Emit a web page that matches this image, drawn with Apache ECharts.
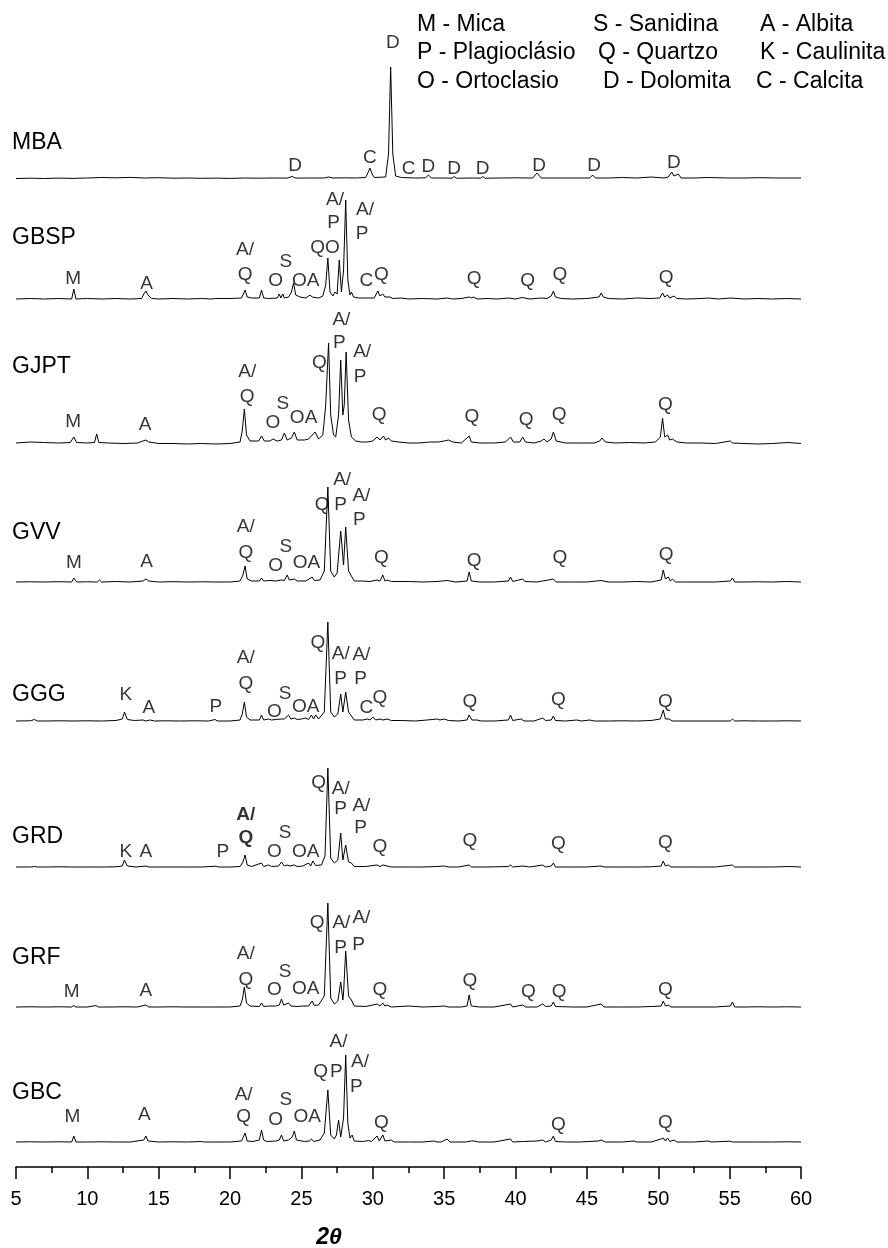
<!DOCTYPE html>
<html><head><meta charset="utf-8">
<script src="https://cdn.jsdelivr.net/npm/echarts@6/dist/echarts.min.js"></script>
<style>html,body{margin:0;padding:0;background:#fff}#c{width:888px;height:1248px}</style>
</head><body><div id="c"></div>
<script>
// ---- sample names and vertical offsets (stacking) ----
const sampleNames = ['MBA','GBSP','GJPT','GVV','GGG','GRD','GRF','GBC'];
const offsets = [988, 867, 722, 584, 445, 299, 159, 24];

// ---- diffractograms: [2theta, intensity] ----
const MBA = [[5,0.5],[6,0.8],[7,0.5],[8,0.9],[9,0.6],[10,1],[11,1.5],[12,1.2],[13,1.6],[14,1],[15,1.3],[16,0.8],[17,1],[18,0.7],[19,0.9],[20,0.6],[21,1],[22,0.8],[23,1],[24,0.9],[24.35,2.5],[24.6,0.9],[25.5,1],[26.6,1],[26.9,2],[27.2,1],[28,1.2],[28.8,1],[29.5,1.5],[29.65,6],[29.8,11],[29.95,5],[30.1,1.5],[30.9,2],[31.1,25],[31.25,112],[31.4,25],[31.6,3],[32,1.5],[33,1],[33.7,1.2],[33.9,4],[34.1,1],[35,1],[35.55,0.8],[35.7,2.5],[35.85,0.8],[37,1],[37.55,0.8],[37.7,2.5],[37.85,0.8],[39,1],[40,1.2],[41.2,1],[41.5,6],[41.8,1],[43,1],[44,1],[45.2,1],[45.4,4],[45.6,1],[46.5,1],[47.5,1.5],[48.5,1],[49.5,2],[50.4,1],[50.7,2],[50.94,7],[51.1,3],[51.4,5],[51.6,1],[52.5,1],[53.5,1.5],[55,1],[56,1],[57,1.3],[58.5,1],[59.2,1],[59.3,2],[59.45,1],[60,1]];
const GBSP = [[5,1],[6,1.5],[7,1],[8,1.5],[8.9,1],[9.05,11],[9.2,1],[10,1.5],[11,1],[12,1.5],[13,1],[13.8,1.5],[13.95,6],[14.1,9],[14.25,5],[14.5,1.5],[15,1],[16,1.5],[17,1],[18,1.5],[18.7,1],[19,1.5],[20,1.5],[20.8,2],[20.9,5],[21.05,10],[21.2,3],[21.5,2],[22.05,2],[22.2,10],[22.35,2],[22.7,1.5],[23.3,2],[23.45,6],[23.55,2],[23.7,6],[23.8,2],[24.1,3],[24.3,8],[24.45,17],[24.6,5],[24.9,3],[25.3,2],[25.6,5],[25.75,3],[26.2,2],[26.5,4],[26.7,15],[26.85,42],[27.0,8],[27.1,10],[27.2,4],[27.35,8],[27.5,6],[27.65,40],[27.8,8],[27.95,30],[28.1,100],[28.25,20],[28.4,5],[28.5,8],[28.65,3],[29,2],[29.5,2],[29.6,4],[29.7,2],[30.1,2],[30.35,9],[30.5,4],[30.7,6],[30.85,3],[31.2,3],[31.4,1.5],[32,2],[32.5,1],[33.5,1.5],[34.5,1],[35.2,2],[35.6,1],[36.2,1.5],[36.75,3],[36.9,2],[37.05,3],[37.3,1],[38,1.5],[38.7,1],[39.5,2],[40,1],[40.45,2.5],[41,1],[41.8,2],[42.2,1.5],[42.5,4],[42.65,9],[42.8,3],[43.2,1.5],[44,1],[45,1.5],[45.85,3],[46.0,7],[46.15,3],[46.5,1.5],[47.5,1],[48.5,2],[49.5,1.5],[50.1,2],[50.3,7],[50.45,3],[50.65,5],[50.8,2],[51.1,4],[51.3,1.5],[52,1],[53,1.5],[53.5,2],[54.2,1],[55.1,2],[56,1],[57,1.5],[58,1],[59,1.5],[60,1]];
const GJPT = [[5,2],[6,3],[7,2.5],[8,2],[8.8,2.5],[9.05,8],[9.25,2.5],[10,2],[10.5,2.5],[10.65,11],[10.8,2.5],[11.5,2],[12.5,1.5],[13.5,2],[13.9,4],[14.1,5],[14.3,3],[15,1.5],[16,1.5],[17,1],[18,1.5],[19,1],[20,1.5],[20.7,3],[20.85,14],[21.0,36],[21.15,10],[21.4,4],[22.0,4],[22.2,9],[22.4,4],[22.8,4],[23.0,6],[23.3,4],[23.6,5],[23.8,12],[24.0,5],[24.3,7],[24.5,13],[24.7,5],[25.2,5],[25.5,6],[25.95,13],[26.2,6],[26.5,10],[26.7,40],[26.9,102],[27.05,30],[27.25,10],[27.4,8],[27.6,30],[27.75,85],[27.9,30],[28.0,40],[28.13,93],[28.3,25],[28.5,8],[28.6,10],[28.8,4],[29.2,3],[29.6,3],[30.0,4],[30.3,8],[30.5,5],[30.75,9],[30.9,5],[31.1,7],[31.3,4],[31.8,3],[32.5,2],[33.2,2],[34,3],[34.6,3],[35.0,4],[35.3,5],[35.6,3],[36.2,2],[36.75,9],[36.9,3],[37.5,2],[38.5,2],[39.3,3],[39.65,8],[39.85,3],[40.3,3],[40.5,8],[40.7,3],[41.3,2],[41.8,4],[42.0,6],[42.2,3],[42.5,6],[42.65,13],[42.85,4],[43.5,2],[44.5,2],[45.5,2],[45.9,4],[46.05,7],[46.3,3],[47,2],[48,2.5],[49,2],[49.8,3],[50.15,8],[50.3,27],[50.45,8],[50.65,10],[50.8,5],[51.0,6],[51.3,3],[52,2],[53,2],[54,1.5],[55.05,4],[55.2,2],[56,1.5],[57,1],[58,1.5],[59.1,2.5],[60,1.5]];
const GVV = [[5,1],[6,1.2],[7,1],[8,1.3],[8.9,1],[9.05,5],[9.25,1],[10,1.2],[10.7,1],[10.85,3],[11,1],[12,1.5],[13,1],[13.9,2],[14.1,4],[14.3,2],[15,1],[16,1.3],[17,1],[18,1.2],[19,1],[20,1],[20.7,2],[20.9,8],[21.05,17],[21.2,4],[21.5,2],[22.05,2],[22.2,5],[22.35,2],[22.8,2.5],[23.2,2],[23.6,3],[23.8,2.5],[24.0,8],[24.15,3],[24.5,4],[24.7,2],[25.3,2],[25.75,6],[25.9,2.5],[26.3,3],[26.6,12],[26.85,96],[27.05,12],[27.3,6],[27.5,10],[27.75,52],[27.95,18],[28.1,56],[28.3,12],[28.5,7],[28.7,2],[29.3,2],[29.8,1.5],[30.3,3],[30.5,2],[30.7,8],[30.85,2],[31.0,3],[31.3,1.5],[32.5,1.5],[33.5,1],[34.5,1.5],[35.2,2.5],[35.8,1],[36.6,2],[36.75,11],[36.9,2],[37.5,1],[38.5,1],[39.5,2],[39.65,6],[39.8,1.5],[40.5,4],[40.65,1.5],[41.5,1],[41.9,2],[42.3,3],[42.65,4],[42.85,1],[44,1],[45,1],[46.0,2.5],[46.5,1],[47.5,1],[48.5,1.5],[49.5,1],[50.2,3],[50.35,13],[50.5,4],[50.7,6],[50.85,2],[51.0,4],[51.2,1],[52,1],[53,1],[54,1],[55.05,2],[55.2,5],[55.35,1],[56,1],[57,1.2],[58,1],[59,1.5],[60,1]];
const GGG = [[5,1],[6,1.2],[6.3,2.5],[6.5,1],[7,1],[8,1.2],[9,1],[10,1.2],[11,1],[12,1.5],[12.45,3],[12.6,10],[12.8,2.5],[13.3,1.5],[13.9,2],[14.1,1],[14.4,2],[14.7,1],[15.5,1.2],[16.5,1],[17.5,1.2],[18.5,1],[18.95,2.5],[19.1,1],[20,1],[20.7,2],[20.85,8],[21.0,20],[21.15,5],[21.4,2],[22.05,2],[22.2,7],[22.35,2],[22.7,3],[22.9,2],[23.2,2.5],[23.6,3],[23.8,3],[24.1,7],[24.25,3],[24.5,4],[24.7,2.5],[25.0,3],[25.3,4],[25.5,2.5],[25.7,7],[25.85,3],[26.0,7],[26.2,3],[26.6,10],[26.85,100],[27.05,10],[27.3,5],[27.55,8],[27.75,28],[27.9,10],[28.0,12],[28.1,30],[28.3,10],[28.5,6],[28.7,2],[29.3,2],[29.6,3],[29.8,2],[30.0,5],[30.2,2],[30.5,3],[30.7,2],[31.0,3],[31.3,1.5],[32,1.5],[33,1],[33.8,2],[34.5,3],[34.7,2],[35.0,3],[35.3,1.5],[36,1],[36.6,2],[36.75,7],[36.95,2],[37.3,2],[37.6,1],[38.5,1],[39.5,2],[39.65,7],[39.8,1.5],[40.4,3],[40.6,1],[41.3,1],[41.9,4],[42.1,1.5],[42.5,2],[42.65,6],[42.8,1.5],[43.5,1],[44.3,2],[44.6,1],[45.2,2],[45.5,1],[46.5,1],[47.5,1.2],[48.5,1],[49.5,1.5],[50.15,3],[50.35,12],[50.5,3],[50.75,3],[51.0,1],[52,1],[53,1],[54,1],[55.05,1],[55.2,3],[55.35,1],[56,1.2],[57,1],[58,1],[59,1.2],[60,1]];
const GRD = [[5,1],[6,1],[6.3,1.5],[6.5,1],[7,1],[8,1.2],[9,1],[10,1],[11,1],[12,1.2],[12.45,2],[12.6,8],[12.8,2],[13.4,1],[14.1,2],[14.3,1],[15,1],[16,1],[17,1],[18,1],[19.0,1.8],[19.2,1],[20,1],[20.7,1.5],[20.9,6],[21.05,13],[21.2,3],[21.5,1.5],[22.2,5],[22.35,1.5],[22.7,3],[22.9,1.5],[23.4,2],[23.6,6],[23.8,2],[24.0,3],[24.2,2],[24.5,3],[24.7,1.5],[25.1,2],[25.5,5],[25.65,2],[25.8,7],[26.0,2.5],[26.4,3],[26.65,12],[26.85,100],[27.05,10],[27.3,5],[27.55,8],[27.75,35],[27.9,8],[28.0,8],[28.1,23],[28.3,6],[28.5,5],[28.7,1.5],[29.5,1.5],[30.3,3],[30.5,1.5],[30.7,3],[31.0,2],[31.3,1],[32.5,1],[33.5,1],[34.5,1.5],[35.0,2],[35.3,1],[36,1],[36.75,3],[36.9,1],[38,1],[39.5,1.5],[39.65,3],[39.8,1],[40.5,2],[41,1],[41.9,3],[42.1,1],[42.5,2],[42.65,5],[42.8,1],[44,1],[45,1],[46.0,2],[46.2,1],[47.5,1],[48.5,1],[49.5,1.2],[50.2,2],[50.35,7],[50.5,2],[50.7,3],[50.9,1],[52,1],[53,1],[54,1],[55.2,3],[55.35,1],[56,1],[57,1],[58,1],[59.2,1.5],[60,1]];
const GRF = [[5,1],[6,1.2],[7,1],[8,1.2],[8.9,1],[9.05,2.5],[9.2,1],[10,1],[10.6,2.5],[10.75,1],[11.5,1],[12.5,1.2],[13.5,1],[14.1,3],[14.3,1],[15,1],[16,1.2],[17,1],[18,1],[19,1],[20,1],[20.7,2],[20.85,8],[21.0,21],[21.15,5],[21.4,2],[22.05,1.5],[22.2,5],[22.35,1.5],[22.7,2],[23.2,2],[23.45,3],[23.6,9],[23.75,3],[24.1,5],[24.25,2],[24.7,1.5],[25.1,2],[25.5,2],[25.75,7],[25.9,2.5],[26.2,3],[26.6,12],[26.85,105],[27.05,10],[27.3,4],[27.55,7],[27.75,26],[27.9,8],[27.95,15],[28.1,57],[28.3,12],[28.5,8],[28.7,2],[29.5,1.5],[30.3,4],[30.5,2],[30.7,5],[30.85,2],[31.0,3],[31.3,1],[32.5,2],[33.5,1],[34.5,1.5],[35.0,2],[35.3,1],[36.2,1],[36.6,2],[36.75,13],[36.9,2],[37.5,1],[38.5,1],[39.65,4],[39.8,1],[40.5,3],[40.7,1],[41.5,1],[41.9,4],[42.1,1.5],[42.5,2],[42.65,6],[42.8,1.5],[44,1],[45,1],[46.0,4],[46.2,1],[47.5,1],[48.5,1],[49.5,1.5],[50.2,2],[50.35,7],[50.5,2],[50.7,3],[50.9,1],[52,1],[53,1],[54,1],[55.05,2],[55.2,6],[55.35,1],[56,1],[57,1.2],[58,1],[59,1.2],[60,1]];
const GBC = [[5,1],[6,1.2],[7,1],[8,1.2],[8.9,1],[9.05,7],[9.2,1],[10,1],[11,1.2],[12,1],[13,1],[13.95,3],[14.1,7],[14.25,2],[15,1],[16,1.2],[17,1],[18,1.5],[18.2,1],[19,1],[20,1],[20.8,2],[20.9,4],[21.05,10],[21.2,2],[21.6,1.5],[22.05,3],[22.2,13],[22.35,3],[22.6,1.5],[23.2,2],[23.45,3],[23.6,8],[23.75,2],[24.1,3],[24.35,6],[24.5,12],[24.65,3],[25.2,1.5],[25.55,2],[25.7,4],[25.85,1.5],[26.3,3],[26.6,10],[26.85,53],[27.05,8],[27.3,4],[27.45,8],[27.6,23],[27.75,6],[27.95,25],[28.1,88],[28.25,20],[28.4,5],[28.55,8],[28.7,2],[29.3,1.5],[29.7,2.5],[29.9,1.5],[30.3,7],[30.45,2],[30.7,8],[30.85,2],[31.3,3],[31.5,1],[32.5,1],[33.5,1],[34.3,2],[34.5,1],[34.6,2],[34.8,1],[35.2,4],[35.4,1],[36.5,1],[36.9,2],[37.1,2],[37.4,1],[38.5,1],[39.65,4],[39.8,1],[40.5,1.5],[41.5,2],[41.9,3],[42.1,1],[42.5,3],[42.65,7],[42.8,1.5],[43.5,1],[44.5,1],[45.8,2],[46.0,3],[46.3,1],[47.5,1],[48.3,2],[48.5,1],[49.5,1],[50.2,4],[50.35,5],[50.5,2],[50.65,5],[50.8,1.5],[51.1,3],[51.3,1],[52.5,1],[53.5,2],[53.7,1],[55.0,1.8],[55.2,1],[56,1],[57,1],[58,1],[59,1.2],[60,1]];
const patterns = [MBA, GBSP, GJPT, GVV, GGG, GRD, GRF, GBC];

// ---- phase annotations: [2theta, height above baseline, text] ----
const MBA_labels = [[31.4,136,'D'],[24.55,13,'D'],[29.8,21,'C'],[32.5,10,'C'],[33.9,12,'D'],[35.7,10,'D'],[37.7,10,'D'],[41.65,13,'D'],[45.5,13,'D'],[51.1,16,'D']];
const GBSP_labels = [[9.0,21,'M'],[14.15,16,'A'],[21.05,50,'A/'],[21.05,25,'Q'],[23.2,19,'O'],[23.9,38,'S'],[25.3,19,'OA'],[26.65,52,'QO'],[27.35,100,'A/'],[27.25,77,'P'],[29.45,90,'A/'],[29.25,66,'P'],[29.55,19,'C'],[30.6,25,'Q'],[37.1,21,'Q'],[40.85,19,'Q'],[43.1,25,'Q'],[50.55,22,'Q']];
const GJPT_labels = [[9.0,23,'M'],[14.05,20,'A'],[21.2,73,'A/'],[21.2,48,'Q'],[23.0,22,'O'],[23.7,41,'S'],[25.15,27,'OA'],[26.25,82,'Q'],[27.8,125,'A/'],[27.65,102,'P'],[29.25,93,'A/'],[29.1,68,'P'],[30.45,30,'Q'],[36.95,28,'Q'],[40.75,25,'Q'],[43.05,30,'Q'],[50.5,40,'Q']];
const GVV_labels = [[9.05,20,'M'],[14.15,21,'A'],[21.1,56,'A/'],[21.1,30,'Q'],[23.2,17,'O'],[23.9,36,'S'],[25.35,20,'OA'],[26.45,78,'Q'],[27.75,78,'P'],[27.85,103,'A/'],[29.2,87,'A/'],[29.05,63,'P'],[30.6,25,'Q'],[37.1,22,'Q'],[43.1,25,'Q'],[50.55,28,'Q']];
const GGG_labels = [[12.7,27,'K'],[14.3,14,'A'],[19.0,15,'P'],[21.1,64,'A/'],[21.1,38,'Q'],[23.1,10,'O'],[23.85,28,'S'],[25.3,15,'OA'],[26.15,79,'Q'],[27.75,68,'A/'],[27.75,43,'P'],[29.2,67,'A/'],[29.15,43,'P'],[29.55,14,'C'],[30.5,24,'Q'],[36.8,20,'Q'],[43.0,22,'Q'],[50.5,20,'Q']];
const GRD_labels = [[12.7,16,'K'],[14.1,16,'A'],[19.5,16,'P'],[21.1,53,'A/'],[21.1,30,'Q'],[23.1,16,'O'],[23.85,35,'S'],[25.3,16,'OA'],[26.2,85,'Q'],[27.75,79,'A/'],[27.75,59,'P'],[29.2,62,'A/'],[29.15,40,'P'],[30.5,21,'Q'],[36.8,27,'Q'],[43.0,24,'Q'],[50.5,25,'Q']];
const GRF_labels = [[8.9,16,'M'],[14.1,17,'A'],[21.1,54,'A/'],[21.1,28,'Q'],[23.1,18,'O'],[23.85,36,'S'],[25.3,19,'OA'],[26.1,85,'Q'],[27.8,85,'A/'],[27.75,60,'P'],[29.2,90,'A/'],[29.0,63,'P'],[30.5,18,'Q'],[36.8,27,'Q'],[40.9,16,'Q'],[43.05,16,'Q'],[50.5,18,'Q']];
const GBC_labels = [[8.95,26,'M'],[14.0,28,'A'],[20.95,48,'A/'],[20.95,26,'Q'],[23.2,23,'O'],[23.9,43,'S'],[25.4,26,'OA'],[26.35,71,'Q'],[27.45,71,'P'],[27.6,101,'A/'],[29.1,81,'A/'],[28.85,56,'P'],[30.6,20,'Q'],[43.0,18,'Q'],[50.5,20,'Q']];
const labelSets = [MBA_labels, GBSP_labels, GJPT_labels, GVV_labels, GGG_labels, GRD_labels, GRF_labels, GBC_labels];

// ---- legend (phase key) ----
const legendRows = [
  ['M - Mica','S - Sanidina','A - Albita'],
  ['P - Plagioclásio','Q - Quartzo','K - Caulinita'],
  ['O - Ortoclasio','D - Dolomita','C - Calcita']
];
const xTicks = {min: 5, max: 60, step: 5};

const FONT = '"Liberation Sans", Arial, Helvetica, sans-serif';
const chart = echarts.init(document.getElementById('c'), null, {renderer: 'canvas'});

const series = [];
patterns.forEach((p, i) => {
  series.push({
    type: 'line', name: sampleNames[i], showSymbol: false, symbol: 'none',
    data: p.map(d => [d[0], d[1] + offsets[i]]),
    lineStyle: {color: '#000', width: 1}, silent: true, animation: false, z: 2
  });
});
labelSets.forEach((ls, i) => {
  series.push({
    type: 'scatter', symbolSize: 1, itemStyle: {color: 'rgba(0,0,0,0)'}, silent: true, animation: false, clip: false, z: 3,
    data: ls.map(d => ({value: [d[0], d[1] + offsets[i]], t: d[2],
      label: (i === 5 && d[0] === 21.1) ? {fontWeight: 'bold'} : undefined})),
    label: {show: true, position: 'inside', formatter: p => p.data.t, color: '#000', fontSize: 19, fontFamily: FONT}
  });
});

const nameY = [143, 238, 367, 533, 695, 837, 958, 1093];
const graphic = [];
sampleNames.forEach((n, i) => {
  graphic.push({type: 'text', x: 12, y: nameY[i], silent: true,
    style: {text: n, fill: '#000', font: '23px ' + FONT, textVerticalAlign: 'middle', verticalAlign: 'middle'}});
});
const colX = [[417, 593, 760], [417, 598, 760], [417, 603, 756]];
const rowY = [25, 53, 82];
legendRows.forEach((row, r) => row.forEach((t, c) => {
  graphic.push({type: 'text', x: colX[r][c], y: rowY[r], silent: true,
    style: {text: t, fill: '#000', font: '23px ' + FONT, textVerticalAlign: 'middle', verticalAlign: 'middle'}});
}));
graphic.push({type: 'text', x: 329, y: 1238, silent: true,
  style: {text: '2θ', fill: '#000', font: 'italic bold 23px ' + FONT, textAlign: 'center', align: 'center', textVerticalAlign: 'middle', verticalAlign: 'middle'}});

chart.setOption({
  backgroundColor: '#fff',
  animation: false,
  grid: {left: 16, right: 87, top: 7, bottom: 81, containLabel: false},
  xAxis: {
    type: 'value', min: xTicks.min, max: xTicks.max, interval: xTicks.step,
    axisLine: {show: true, onZero: false, lineStyle: {color: '#000', width: 1.5}},
    axisTick: {show: true, inside: false, length: 12, lineStyle: {color: '#000', width: 1.5}},
    minorTick: {show: true, splitNumber: 2, length: 6, lineStyle: {color: '#000', width: 1.5}},
    axisLabel: {color: '#000', fontSize: 20, fontFamily: FONT, margin: 22},
    splitLine: {show: false}
  },
  yAxis: {type: 'value', min: 0, max: 1160, show: false, splitLine: {show: false}},
  series: series,
  graphic: graphic
});
</script>
</body></html>
